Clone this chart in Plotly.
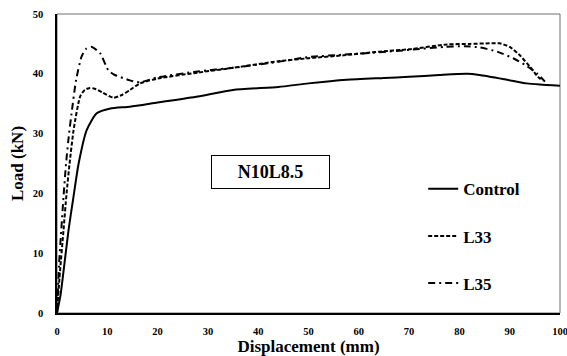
import plotly.graph_objects as go

# Load-displacement curves (displacement in mm, load in kN)
control_x = [0, 0.7, 1.3, 2.3, 3.2, 4.3, 5.9, 7.9, 10.6, 14.5, 20, 28, 35, 44, 50,
             57.6, 65, 70, 76, 81.5, 84, 89.5, 93.4, 96, 100]
control_y = [0, 3, 7, 13.9, 19, 25, 30.6, 33.4, 34.2, 34.5, 35.2, 36.2, 37.3, 37.8, 38.4,
             39.0, 39.3, 39.5, 39.8, 40.0, 39.8, 39.0, 38.4, 38.2, 38.0]

l33_x = [0, 0.6, 1.3, 1.9, 2.5, 3.3, 4.6, 5.5, 6.4, 7.5, 9, 11.2, 13, 14.5, 16.5, 20,
         28, 35, 44, 50, 57, 64, 70, 77.5, 82, 86, 88, 90, 92, 94, 95.6, 96.3]
l33_y = [0, 7, 13.9, 20, 25, 30.6, 36.2, 37.3, 37.6, 37.5, 36.9, 36.0, 36.5, 37.3, 38.4, 39.2,
         40.2, 41.0, 42.1, 42.6, 43.1, 43.7, 44.1, 44.9, 45.0, 45.1, 45.1, 44.5, 43.1, 41.2, 39.5, 39.0]

l35_x = [0, 0.4, 0.85, 1.3, 1.8, 2.4, 2.9, 3.8, 4.9, 5.8, 6.9, 8.6, 10.2, 11.5, 13.1, 14.5,
         16.5, 20, 28, 35, 44, 50, 57, 64, 70, 77, 81, 84.1, 87.5, 90.7, 93.4, 95.4, 97]
l35_y = [0, 8, 13.9, 19.5, 25, 30, 33.4, 39, 42.9, 44.2, 44.5, 43.4, 40.6, 39.8, 39.3, 38.9,
         38.6, 39.4, 40.4, 41.0, 42.0, 42.8, 43.2, 43.6, 44.0, 44.5, 44.6, 44.4, 43.7, 42.6, 41.3, 40.1, 38.7]

x_ticks = [0, 10, 20, 30, 40, 50, 60, 70, 80, 90, 100]
y_ticks = [0, 10, 20, 30, 40, 50]

SERIF = "Liberation Serif, Times New Roman, serif"


def bold(v):
    return f"<b>{v}</b>"


fig = go.Figure()
fig.add_trace(go.Scatter(x=control_x, y=control_y, mode="lines", name=bold("Control"),
                         legendgroup="a", line=dict(color="black", width=2, shape="spline", smoothing=0.6)))
fig.add_trace(go.Scatter(x=l33_x, y=l33_y, mode="lines", name=bold("L33"),
                         legendgroup="b", line=dict(color="black", width=2, dash="4px,2px",
                                                    shape="spline", smoothing=0.6)))
fig.add_trace(go.Scatter(x=l35_x, y=l35_y, mode="lines", name=bold("L35"),
                         legendgroup="c", line=dict(color="black", width=2, dash="7px,4px,2px,4px",
                                                    shape="spline", smoothing=0.6)))

# Specimen label box
fig.add_annotation(x=42.4, y=23.5, xref="x", yref="y", text=bold("N10L8.5"),
                   showarrow=False, width=115, height=30,
                   font=dict(family=SERIF, size=18, color="black"),
                   bordercolor="black", borderwidth=1, bgcolor="white")

# Thin grey frame around the plotting area (top and right edges)
fig.add_shape(type="rect", xref="paper", yref="paper", x0=0, x1=1, y0=0, y1=1,
              line=dict(color="#6e6e6e", width=1), layer="below")

axis_common = dict(showgrid=False, zeroline=False, showline=True, linecolor="black",
                   linewidth=1.5, ticks="", ticklabeloverflow="allow", automargin=False,
                   tickfont=dict(family=SERIF, size=10.5, color="black"))

fig.update_xaxes(range=[0, 100], tickvals=x_ticks, ticktext=[bold(t) for t in x_ticks],
                 ticklabelstandoff=8,
                 title=dict(text=bold("Displacement (mm)"), standoff=10,
                            font=dict(family=SERIF, size=17, color="black")),
                 **axis_common)
fig.update_yaxes(range=[0, 50], tickvals=y_ticks, ticktext=[bold(t) for t in y_ticks],
                 ticklabelstandoff=10,
                 title=dict(text=bold("Load (kN)"), standoff=5,
                            font=dict(family=SERIF, size=17, color="black")),
                 **axis_common)

fig.update_layout(
    width=567, height=356,
    margin=dict(l=57, r=7, t=14, b=43),
    paper_bgcolor="white", plot_bgcolor="white",
    font=dict(family=SERIF, color="black"),
    legend=dict(x=0.728, y=0.474, xanchor="left", yanchor="top",
                tracegroupgap=22, bgcolor="rgba(0,0,0,0)",
                font=dict(family=SERIF, size=17, color="black")),
)

fig.write_html("out.html")
